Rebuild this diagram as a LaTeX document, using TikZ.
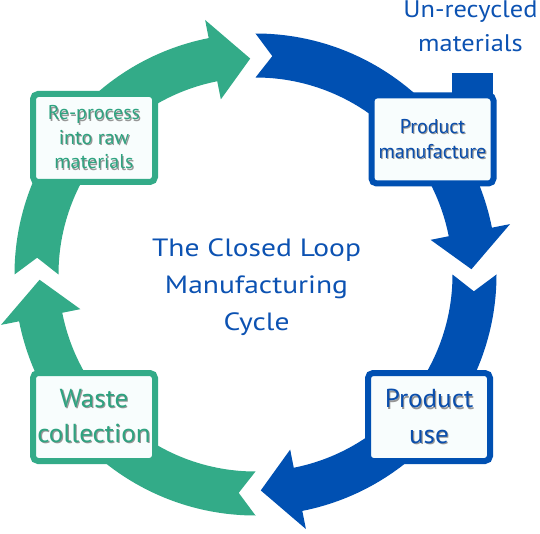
\documentclass[tikz,border=0pt]{standalone}
\usepackage{fontspec}
\setmainfont{PT Sans}
\newfontfamily\titlefont{PT Sans}[FakeStretch=1.18]
\newfontfamily\inputfont{PT Sans}[FakeStretch=1.1]
\newfontfamily\bigboxfont{PT Sans}[FakeStretch=1.04]
\definecolor{cgreen}{RGB}{51,171,136}
\definecolor{cblue}{RGB}{0,80,178}
\definecolor{gtext}{RGB}{46,163,128}
\definecolor{btext}{RGB}{10,78,172}
\definecolor{titleblue}{RGB}{12,82,178}
\definecolor{boxfill}{RGB}{248,253,253}
\definecolor{shadowgray}{RGB}{150,150,150}
\newcommand{\shd}[1]{\leavevmode\rlap{\kern1.1pt\raisebox{-1.1pt}{\textcolor{shadowgray}{#1}}}#1}
\newcommand{\ringarrow}[2]{%
  \fill[#1,shift={(C)}] (#2:241pt)
    arc[start angle=#2, end angle=#2-78.8, radius=241pt]
    -- (#2-78.8:259.5pt) -- (#2-88.6:216pt) -- (#2-78.8:178.5pt) -- (#2-78.8:197pt)
    arc[start angle=#2-78.8, end angle=#2, radius=197pt]
    -- (#2-4.4:219pt) -- cycle;}
\tikzset{
  gbox/.style={draw=cgreen, line width=6pt, fill=boxfill, rounded corners=5pt,
    minimum width=122pt, minimum height=88pt, inner sep=0pt, align=center, text=gtext},
  bbox/.style={draw=cblue, line width=6pt, fill=boxfill, rounded corners=5pt,
    minimum width=122pt, minimum height=88pt, inner sep=0pt, align=center, text=btext},
  smalltxt/.style={font=\fontsize{20}{24.5}\selectfont},
  bigtxt/.style={font=\bigboxfont\fontsize{26}{35}\selectfont}
}
\begin{document}
\begin{tikzpicture}[x=1pt,y=1pt]
\useasboundingbox (0,0) rectangle (540,533);
\coordinate (C) at (255.5,258.5);
% ring arrows
\ringarrow{cgreen}{180}
\ringarrow{cblue}{90}
\ringarrow{cblue}{0}
\ringarrow{cgreen}{-90}
% input bar for un-recycled materials
\fill[cblue] (451.5,460) rectangle (492.5,400);
% boxes
\node[gbox, smalltxt] (reprocess) at (94,395) {\shd{Re-process}\\\shd{into raw}\\\shd{materials}};
\node[bbox, smalltxt] (manufacture) at (432.5,393.5) {\shd{Product}\\\shd{manufacture}};
\node[bbox, bigtxt] (use) at (429,116) {\shd{Product}\\\shd{use}};
\node[gbox, bigtxt] (waste) at (94,116) {\shd{Waste}\\\shd{collection}};
% texts
\node[text=titleblue, align=center, inner sep=0pt, font=\titlefont\fontsize{25}{37}\selectfont] (title) at (256.5,245.5) {The Closed Loop\\Manufacturing\\Cycle};
\node[text=titleblue, align=center, inner sep=0pt, font=\inputfont\fontsize{24}{34}\selectfont] (unrec) at (470.5,506.5) {Un-recycled\\materials};
\end{tikzpicture}
\end{document}
